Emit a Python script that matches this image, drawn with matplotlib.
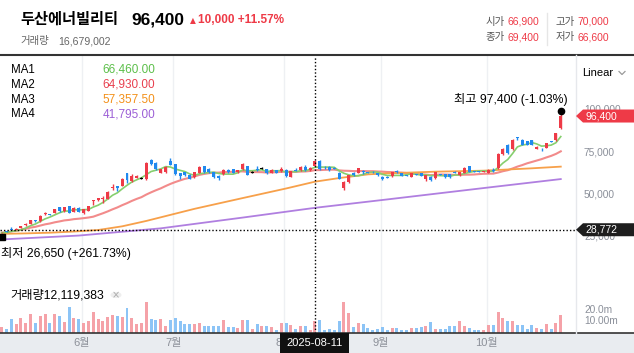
import numpy as np
import pandas as pd
import matplotlib
matplotlib.use("Agg")
import matplotlib.pyplot as plt
import matplotlib.transforms as mtrans
from matplotlib.patches import Polygon, Rectangle, Circle
from matplotlib.lines import Line2D

plt.rcParams['font.family'] = ['Liberation Sans', 'Noto Sans CJK KR', 'DejaVu Sans']

# Daily candles (KRW), trading days from 2025-05-08
opens = [26700, 27700, 29300, 28900, 30000, 31300, 32000, 34500, 33800, 38100,
         38100, 38700, 42100, 39700, 42900, 39300, 41700, 38700, 40100, 45800,
         46500, 47000, 47000, 53300, 54800, 55000, 62300, 57500, 59700, 59400,
         59000, 70200, 68600, 62700, 63100, 69800, 67600, 62300, 63100, 61500,
         59900, 62700, 66500, 64900, 62900, 61000, 61700, 64300, 64700, 62900,
         64900, 66500, 62900, 64700, 65300, 64700, 62700, 64100, 63600, 64500,
         60300, 64500, 64300, 66300, 64300, 66900, 69800, 66300, 66100, 65500,
         62700, 53400, 57300, 62700, 62700, 63500, 63100, 63200, 62300, 60300,
         59900, 60700, 63400, 62300, 61100, 60300, 61900, 62500, 58900, 60300,
         59300, 61700, 61900, 61900, 62900, 61300, 62700, 66500, 63500, 63500,
         63300, 62700, 64400, 65300, 73800, 79200, 76600, 83700, 82100, 81500,
         81900, 77000, 76900, 77500, 81500, 82100, 89100]
highs = [27300, 27900, 30200, 29700, 31100, 32900, 34700, 34600, 37300, 39500,
         38200, 41300, 42300, 42300, 43100, 42300, 42000, 41300, 43100, 46200,
         47800, 48600, 51800, 55900, 55000, 59300, 62500, 61800, 61500, 60100,
         69200, 70900, 69200, 65100, 66500, 71700, 67900, 62600, 63300, 61700,
         63200, 66600, 66900, 65200, 63100, 61300, 64600, 64600, 65000, 64400,
         68500, 66800, 63500, 66500, 66000, 65000, 64800, 64300, 66000, 64800,
         64000, 65500, 66400, 67300, 66000, 70000, 70300, 66800, 66400, 65800,
         63000, 57600, 61600, 62900, 65600, 64500, 63400, 63500, 62600, 60600,
         60500, 63200, 64500, 62600, 61400, 62600, 62200, 62800, 61600, 60600,
         63200, 62200, 62200, 62200, 63700, 63200, 65900, 66800, 63800, 63800,
         64000, 64600, 65600, 74200, 77400, 79700, 82600, 84000, 82500, 81800,
         82200, 78400, 77100, 80500, 81800, 86600, 97400]
lows = [26650, 27200, 28600, 28700, 29900, 31200, 31900, 33600, 33600, 37400,
        37400, 38600, 39600, 39600, 38600, 39100, 39200, 38300, 39800, 43300,
        46100, 44900, 46800, 52400, 52000, 54800, 56400, 57300, 59400, 58700,
        58200, 67000, 64300, 62300, 62800, 67000, 61300, 58800, 60800, 58700,
        59500, 62400, 62600, 62700, 59600, 58300, 61400, 62600, 62400, 62600,
        64500, 61300, 62300, 64000, 64700, 62000, 62400, 62500, 63300, 60400,
        60000, 63800, 64000, 64000, 64000, 66600, 64500, 64900, 64000, 64800,
        58800, 52400, 56600, 61000, 62400, 61900, 62500, 62600, 60800, 58400,
        59300, 60400, 62800, 60600, 60600, 60000, 61400, 60600, 57700, 58000,
        59000, 61100, 59800, 59600, 62300, 61000, 62400, 63000, 62900, 62900,
        63000, 62400, 63300, 65000, 73500, 73900, 76300, 82100, 78900, 78900,
        79000, 76800, 75400, 77200, 80900, 81800, 88800]
closes = [27000, 27400, 28900, 29300, 31000, 32300, 34400, 33800, 37100, 38500,
          37600, 40900, 40100, 42100, 38900, 41900, 39500, 41100, 42700, 46100,
          47400, 47600, 51200, 54100, 53400, 59100, 58200, 60900, 60700, 59400,
          68400, 67600, 64700, 64700, 66100, 67300, 61700, 60700, 61100, 59100,
          62900, 66300, 62900, 62900, 59900, 59300, 64300, 62900, 62700, 64100,
          68000, 61600, 62900, 64300, 65300, 62300, 64500, 62700, 64900, 60700,
          63700, 64000, 66100, 64300, 65700, 69400, 64700, 66000, 64300, 65100,
          59100, 57300, 61300, 61300, 65300, 63100, 62800, 62900, 61100, 58700,
          59700, 62900, 63100, 60900, 60900, 62300, 61700, 60900, 61300, 58300,
          62900, 61400, 60100, 59900, 62500, 62900, 65600, 63300, 63200, 63200,
          63700, 64300, 63600, 73800, 76800, 74200, 82100, 83300, 79200, 79200,
          79300, 78100, 76700, 80200, 81200, 86400, 96400]
# volume, millions of shares
volumes = [5.5, 3.8, 12.5, 7.5, 13.3, 8.7, 16.8, 8.4, 14.5, 16.2,
           9.0, 16.5, 14.5, 9.9, 22.3, 13.3, 11.9, 9.0, 10.7, 18.6,
           11.9, 10.7, 13.6, 15.7, 14.5, 13.6, 22.0, 13.1, 7.5, 9.0,
           26.7, 11.9, 11.0, 12.5, 6.4, 11.6, 13.3, 10.2, 7.8, 7.5,
           8.1, 8.7, 6.4, 6.4, 6.4, 6.4, 11.6, 5.2, 4.9, 4.4,
           11.0, 11.6, 3.5, 7.5, 5.8, 5.8, 5.2, 2.9, 9.0, 9.0,
           7.2, 3.2, 6.4, 6.4, 2.9, 10.7, 11.0, 2.9, 3.8, 2.9,
           10.7, 26.7, 17.7, 5.5, 8.4, 7.5, 4.4, 2.9, 3.2, 4.9,
           2.3, 4.6, 4.6, 2.3, 2.3, 4.1, 4.1, 5.2, 5.8, 9.3,
           3.8, 3.8, 3.8, 6.4, 6.4, 10.7, 6.4, 4.6, 2.9, 2.9,
           2.9, 6.7, 6.7, 18.0, 13.1, 10.7, 10.7, 6.7, 6.7, 3.8,
           6.7, 4.6, 3.8, 7.5, 3.8, 9.0, 15.4]

# 60 / 120 day averages (they need history before the window)
ma3_idx = [0, 5, 10, 15, 20, 25, 30, 40, 50, 59, 65, 70, 76, 80, 90, 100, 110, 116]
ma3_vals = [26300, 26600, 27000, 27700, 28600, 30800, 34000, 41200, 47600, 53300,
            57350, 59500, 61700, 62300, 63300, 63900, 65300, 66300]
ma4_idx = [0, 16, 33, 50, 65, 80, 101, 116]
ma4_vals = [23000, 25300, 29600, 36000, 41800, 46800, 53900, 58900]

month_labels = ['6월', '7월', '8월', '9월', '10월']
month_start = [17, 36, 59, 79, 101]
price_ticks = [25000, 50000, 75000, 100000]
vol_ticks = [10, 20]
vol_tick_labels = ['10.00m', '20.0m']

ma_names = ['MA1', 'MA2', 'MA3', 'MA4']
ma_legend = ['66,460.00', '64,930.00', '57,357.50', '41,795.00']

cursor_idx = 65
cursor_date = '2025-08-11'
cursor_price = 28772
cur_open, cur_high, cur_close, cur_low, cur_vol = '66,900', '70,000', '69,400', '66,600', '16,679,002'
last_vol = '12,119,383'

RED = '#ee3a47'
BLUE = '#2089ee'
W, H = 634, 353

def fx(x):
    return x / W

def fy(y):
    return 1 - y / H

fig = plt.figure(figsize=(W / 100, H / 100), dpi=100)
ax = fig.add_axes([0, fy(285), fx(575), (285 - 56) / H])
axv = fig.add_axes([0, fy(333), fx(575), (333 - 285) / H])
for a in (ax, axv):
    a.set_xlim(-0.35, 118.95)
    a.axis('off')
    for m in month_start:
        a.axvline(m - 0.4, color='#eef0f3', lw=1, zorder=0)
ax.set_ylim(-4100, 132100)
axv.set_ylim(0, 41.7)

x = np.arange(len(closes))
o = np.array(opens)
hi = np.array(highs)
lo = np.array(lows)
c = np.array(closes)
col = np.where(c > o, RED, np.where(c < o, BLUE, '#000000'))

# moving averages
cs = pd.Series(closes)
ax.plot(x, cs.rolling(20, min_periods=1).mean(), color='#f28b8b', lw=1.5, zorder=2)
ax.plot(ma4_idx, ma4_vals, color='#b07fe0', lw=1.3, zorder=2)
ax.plot(ma3_idx, ma3_vals, color='#f7a04a', lw=1.3, zorder=2)
ax.plot(x, cs.rolling(5, min_periods=1).mean(), color='#86cf6e', lw=1.2, zorder=2)

# candles
ax.vlines(x, lo, hi, colors=col, lw=1, zorder=3)
body = np.maximum(np.abs(c - o), 450)
ax.bar(x, body, bottom=np.minimum(o, c) - (body - np.abs(c - o)) / 2,
       width=0.62, color=col, linewidth=0, zorder=4)

# volume
vcol = np.where(c >= o, '#f5a2a8', '#8cc4f6')
axv.bar(x, volumes, width=0.62, color=vcol, linewidth=0, zorder=2)

# crosshair
dots = (0, (1, 1.5))
ax.axvline(cursor_idx, color='k', lw=1, ls=dots, zorder=6)
axv.axvline(cursor_idx, color='k', lw=1, ls=dots, zorder=6)
ax.axhline(cursor_price, color='k', lw=1, ls=dots, zorder=6)

# high / low markers
imax = int(np.argmax(hi))
imin = int(np.argmin(lo))
ax.plot(imax, hi[imax], 'o', ms=4.5, color='k', zorder=7,
        transform=mtrans.offset_copy(ax.transData, fig=fig, x=0, y=3, units='dots'))
ax.annotate('최고 97,400 (-1.03%)', xy=(imax, hi[imax]), xytext=(7, 15),
            textcoords='offset pixels', ha='right', va='center', fontsize=8.8)
ax.plot(imin, lo[imin], 's', ms=4.5, color='k', zorder=7,
        transform=mtrans.offset_copy(ax.transData, fig=fig, x=0, y=-4, units='dots'))
ax.annotate('최저 26,650 (+261.73%)', xy=(imin, lo[imin]), xytext=(-1, -20),
            textcoords='offset pixels', ha='left', va='center', fontsize=8.8)

# frame lines
fig.add_artist(Line2D([0, 1], [fy(54.5), fy(54.5)], color='#333333', lw=1.5))
fig.add_artist(Rectangle((0, 0), 1, fy(333), color='#e9ecf0', lw=0, zorder=0))
fig.add_artist(Line2D([0, 1], [fy(333), fy(333)], color='#333333', lw=1.2))
fig.add_artist(Line2D([fx(575.5), fx(575.5)], [fy(333), fy(55)], color='#e6e8ec', lw=1))
fig.add_artist(Line2D([fx(547), fx(547)], [fy(45), fy(13)], color='#e6e6e6', lw=1))

# header
fig.text(fx(20), fy(20), '두산에너빌리티', fontsize=11, fontweight='bold', va='center')
fig.text(fx(131), fy(20), f'{closes[-1]:,}', fontsize=12.5, fontweight='bold', va='center')
chg = closes[-1] - closes[-2]
fig.text(fx(190), fy(20.5), '▲', fontsize=5.5, color=RED, va='center', family='DejaVu Sans')
fig.text(fx(198), fy(20), f'{chg:,} +{chg / closes[-2] * 100:.2f}%', fontsize=8.5,
         fontweight='bold', color=RED, va='center')
fig.text(fx(20), fy(41), '거래량', fontsize=7.5, color='#666666', va='center')
fig.text(fx(58), fy(41), cur_vol, fontsize=7.6, color='#666666', va='center')

for lab, val, xl, xv, yy in [('시가', cur_open, 486, 508, 22), ('고가', cur_high, 556, 577, 22),
                             ('종가', cur_close, 486, 508, 37), ('저가', cur_low, 556, 577, 37)]:
    fig.text(fx(xl), fy(yy), lab, fontsize=7.5, color='#555555', va='center')
    fig.text(fx(xv), fy(yy), val, fontsize=7.5, color=RED, va='center')

# MA legend
ma_cols = ['#5cbf4a', '#e8404f', '#f39019', '#9c5fd6']
for k in range(4):
    yy = 70 + k * 14.8
    fig.text(fx(11), fy(yy), ma_names[k], fontsize=8.3, va='center')
    fig.text(fx(155), fy(yy), ma_legend[k], fontsize=8.5, color=ma_cols[k], va='center', ha='right')

fig.text(fx(582), fy(73), 'Linear', fontsize=8, va='center')
fig.add_artist(Line2D([fx(619), fx(622), fx(625)], [fy(71.5), fy(74.5), fy(71.5)], color='#9a9a9a', lw=0.9))

# right axis labels
tr_p = mtrans.blended_transform_factory(fig.transFigure, ax.transData)
for t in price_ticks:
    fig.text(fx(584), t, f'{t:,}', transform=tr_p, fontsize=7.3, color='#8a8f99', va='center')
tr_v = mtrans.blended_transform_factory(fig.transFigure, axv.transData)
for t, lab in zip(vol_ticks, vol_tick_labels):
    fig.text(fx(584), t, lab, transform=tr_v, fontsize=7.3, color='#8a8f99', va='center')

def to_fig(a, xd, yd):
    return fig.transFigure.inverted().transform(a.transData.transform((xd, yd)))

def price_tag(v, text, color):
    yf = to_fig(ax, 0, v)[1]
    hh = 6.5 / H
    pts = [(fx(576), yf), (fx(583), yf + hh), (1, yf + hh), (1, yf - hh), (fx(583), yf - hh)]
    fig.add_artist(Polygon(pts, closed=True, facecolor=color, edgecolor='none', zorder=10))
    fig.text(fx(585), yf, text, color='white', fontsize=7.5, va='center', zorder=11)

price_tag(closes[-1], f'{closes[-1]:,}', RED)
price_tag(cursor_price, f'{cursor_price:,}', '#1e1e1e')

# month labels and date tag
tr_m = mtrans.blended_transform_factory(axv.transData, fig.transFigure)
for m, lab in zip(month_start, month_labels):
    fig.text(m - 0.4, fy(343), lab, transform=tr_m, fontsize=8, color='#8c9099',
             ha='center', va='center')
xc = to_fig(ax, cursor_idx, 0)[0]
fig.add_artist(Rectangle((xc - fx(34.5), 0), fx(69), fy(333), facecolor='#111111', lw=0, zorder=10))
fig.text(xc, fy(343), cursor_date, color='white', fontsize=8, ha='center', va='center', zorder=11)

# volume title
fig.text(fx(10), fy(295), '거래량' + last_vol, fontsize=8.8, va='center')
fig.add_artist(Circle((fx(116), fy(295)), 5.5 / W, facecolor='#eeeeee', edgecolor='none'))
fig.text(fx(116), fy(295), '×', fontsize=7, color='#aaaaaa', ha='center', va='center', family='DejaVu Sans')

fig.savefig('out.png', dpi=100)
